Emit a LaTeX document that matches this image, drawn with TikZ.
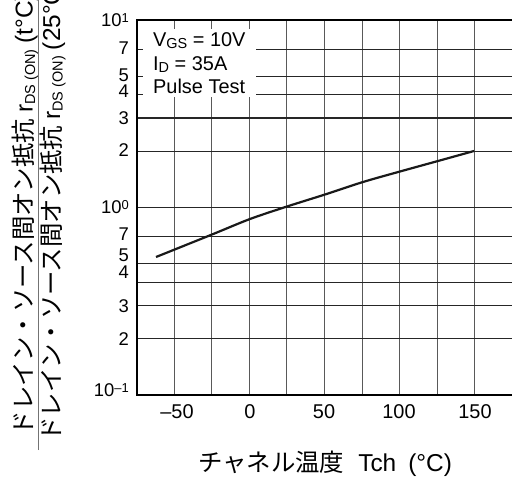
\documentclass[tikz,border=0pt]{standalone}
\usepackage{fontspec}
\setmainfont{Liberation Sans}
\newfontfamily\jp{Noto Sans CJK JP}
\newcommand{\sbs}[1]{\raisebox{-2.5bp}{\fontsize{14.5}{14.5}\selectfont #1}}
\newcommand{\sps}[1]{\raisebox{4bp}{\fontsize{13}{13}\selectfont #1}}
\begin{document}
\begin{tikzpicture}[x=1bp,y=-1bp,
  hgrid/.style={black!85,line width=1.1bp},
  vgrid/.style={black!65,line width=1.1bp},
  frame/.style={black,line width=2.6bp},
  ticklab/.style={font=\fontsize{20}{20}\selectfont,inner sep=0pt},
  yticklab/.style={font=\fontsize{18.5}{18.5}\selectfont,inner sep=0pt,anchor=base east},
  curve/.style={black!90,line width=2.2bp},
  axtitle/.style={font=\fontsize{24.5}{24.5}\selectfont,inner sep=0pt},
  legend/.style={font=\fontsize{20}{24}\selectfont,fill=white,align=left,inner xsep=10bp,inner ysep=3bp}]
\useasboundingbox (0,0) rectangle (512,478);
\clip (0,0) rectangle (512,478);
% grid
\foreach \k in {1,...,9}
  \draw[vgrid] ({136.5+37.6*\k},20) -- ({136.5+37.6*\k},395);
\draw[hgrid] (137,207.5) -- (512,207.5);
\foreach \v in {2,3,4,5,7} {
  \draw[hgrid] (137,{207.5-187.5*log10(\v)}) -- (512,{207.5-187.5*log10(\v)});
  \draw[hgrid] (137,{395-187.5*log10(\v)}) -- (512,{395-187.5*log10(\v)});
}
% legend box
\node[legend,anchor=north west] (leg) at (143,29)
  {V\sbs{GS} = 10V\\I\sbs{D} = 35A\\Pulse Test};
% frame
\draw[frame] (512,20) -- (137,20) -- (137,395) -- (512,395);
% curve
\draw[curve] plot[smooth] coordinates {(156,257) (212,234.5) (250,219) (287,206.5) (325,194.5) (363,182) (400,171.5) (438,161) (474,151)};
% x tick labels
\node[ticklab] (xa) at (177,411.5) {\textendash 50};
\node[ticklab] (xb) at (250,411.5) {0};
\node[ticklab] (xc) at (324,411.5) {50};
\node[ticklab] (xd) at (399,411.5) {100};
\node[ticklab] (xe) at (475,411.5) {150};
% y tick labels
\node[yticklab] (y10) at (129,26.5) {10\sps{1}};
\node[yticklab] (y7a) at (129,54.5) {7};
\node[yticklab] (y5a) at (129,81.3) {5};
\node[yticklab] (y4a) at (129,97.5) {4};
\node[yticklab] (y3a) at (129,125) {3};
\node[yticklab] (y2a) at (129,157) {2};
\node[yticklab] (y1) at (129,213) {10\sps{0}};
\node[yticklab] (y7b) at (129,240.5) {7};
\node[yticklab] (y5b) at (129,261.8) {5};
\node[yticklab] (y4b) at (129,278.5) {4};
\node[yticklab] (y3b) at (129,312.5) {3};
\node[yticklab] (y2b) at (129,345.5) {2};
\node[yticklab] (y01) at (129,396.5) {10\sps{\textendash 1}};
% x title
\node[axtitle,anchor=base] (xt) at (325,471) {{\jp チャネル温度}\hspace{14bp}Tch\hspace{12bp}(°C)};
% y title (fraction)
\node[axtitle,rotate=90] (num) at (25,214) {{\jp ドレイン・ソース間オン抵抗}\hspace{6bp}r\sbs{DS (ON)}\hspace{6bp}(t°C)};
\node[axtitle,rotate=90] (den) at (52.5,210.5) {{\jp ドレイン・ソース間オン抵抗}\hspace{6bp}r\sbs{DS (ON)}\hspace{6bp}(25°C)};
\coordinate (fb) at (38.5,450);
\coordinate (ft) at (38.5,-45);
\draw[black!55,line width=1.2bp] (fb) -- (ft);
\end{tikzpicture}
\end{document}
